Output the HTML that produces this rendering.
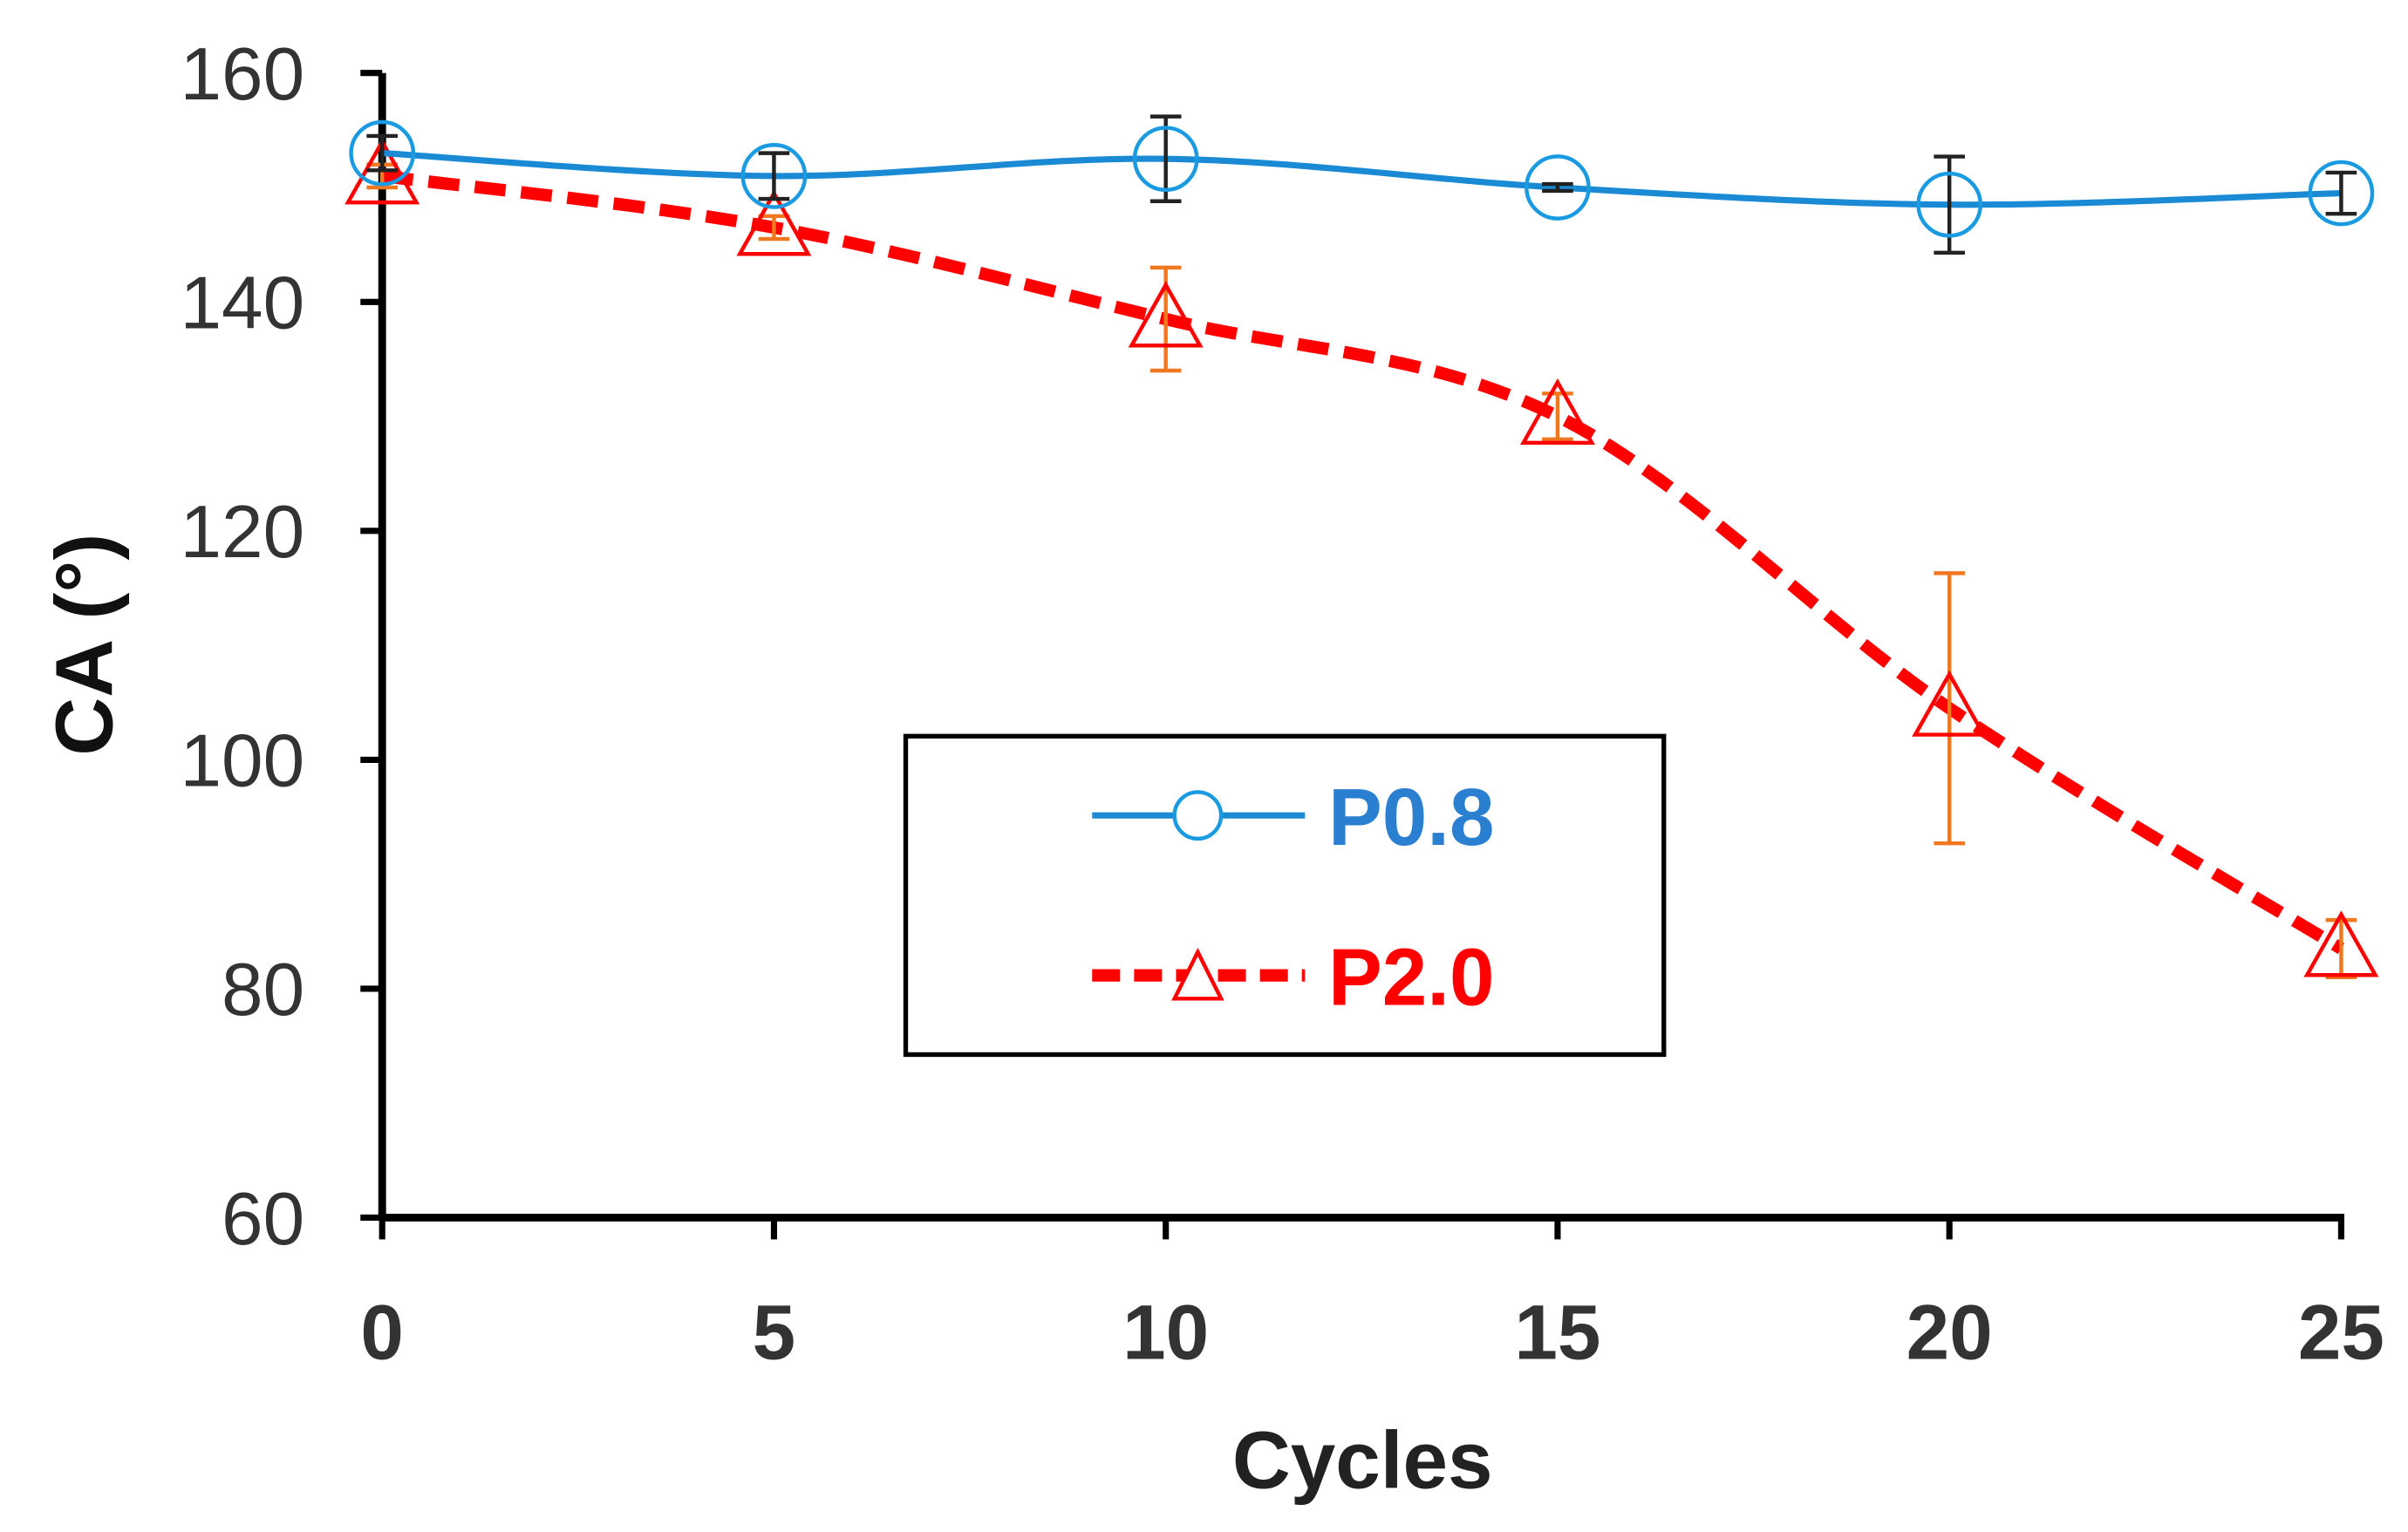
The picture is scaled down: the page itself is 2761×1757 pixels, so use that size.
<!DOCTYPE html>
<html><head><meta charset="utf-8"><style>
html,body{margin:0;padding:0;background:#fff;}
svg{display:block;}
text{font-family:"Liberation Sans",Arial,sans-serif;}
</style></head><body>
<svg id="chart" width="2761" height="1757" viewBox="0 0 1550 986.4" preserveAspectRatio="none" xmlns="http://www.w3.org/2000/svg">
<g id="axes"></g>
<g id="series"></g>
<g>
  <rect x="583" y="474" width="488" height="205" fill="#fff" stroke="#000" stroke-width="3"/>
  <line x1="703" y1="525" x2="840" y2="525" stroke="#1a8ad4" stroke-width="4"/>
  <circle cx="771" cy="525" r="15" fill="#fff" stroke="#1a9ae0" stroke-width="2.5"/>
  <text x="855" y="544" font-size="52" font-weight="bold" fill="#2a7fd0">P0.8</text>
  <line x1="703" y1="628" x2="840" y2="628" stroke="#ff0000" stroke-width="8" stroke-dasharray="18 9"/>
  <polygon points="771,613 756,643 786,643" fill="#fff" stroke="#ff0000" stroke-width="2.5"/>
  <text x="855" y="647" font-size="52" font-weight="bold" fill="#ff0000">P2.0</text>
</g>
<text x="877" y="958" font-size="52" font-weight="bold" text-anchor="middle" fill="#222">Cycles</text>
<text x="0" y="0" font-size="52" font-weight="bold" text-anchor="middle" fill="#111" transform="translate(72,415) rotate(-90)">CA (°)</text>
</svg>
<script>
const cycles = [0, 5, 10, 15, 20, 25];
const p08 = [153, 151, 152.5, 150, 148.5, 149.5];
const p08Err = [1.5, 2, 3.7, 0.3, 4.2, 1.8];
const p20 = [151, 146.5, 138.5, 130, 104.5, 83.5];
const p20Err = [1, 1, 4.5, 2, 11.8, 2.5];
const yTicks = [60, 80, 100, 120, 140, 160];
const xTicks = [0, 5, 10, 15, 20, 25];

const NS = "http://www.w3.org/2000/svg";
const X0 = 246, X1 = 1507, Y0 = 784, Y1 = 47;
const xs = v => X0 + (v - 0) / 25 * (X1 - X0);
const ys = v => Y0 - (v - 60) / 100 * (Y0 - Y1);
function mk(tag, attrs, parent) {
  const e = document.createElementNS(NS, tag);
  for (const k in attrs) e.setAttribute(k, attrs[k]);
  parent.appendChild(e);
  return e;
}
const axes = document.getElementById('axes');
const series = document.getElementById('series');

let el = mk('line', {x1: X0, y1: Y1, x2: X0, y2: Y0 + 2, stroke: '#000', 'stroke-width': 5}, axes);


el = mk('line', {x1: X0 - 2, y1: Y0, x2: X1 + 2, y2: Y0, stroke: '#000', 'stroke-width': 5}, axes);



yTicks.forEach(t => {
  const y = ys(t);
  const tk = mk('line', {x1: X0 - 14, y1: y, x2: X0, y2: y, stroke: '#000', 'stroke-width': 4}, axes);
  
  
  const tx = mk('text', {x: 196, y: y + 17, 'font-size': 48, 'text-anchor': 'end', fill: '#333'}, axes);
  tx.textContent = t;
  
  
});
xTicks.forEach(t => {
  const x = xs(t);
  const tk = mk('line', {x1: x, y1: Y0, x2: x, y2: Y0 + 14, stroke: '#000', 'stroke-width': 4}, axes);
  
  
  const tx = mk('text', {x: x, y: 875, 'font-size': 50, 'font-weight': 'bold', 'text-anchor': 'middle', fill: '#333'}, axes);
  tx.textContent = t;
  
  
});

function smoothPath(pts) {
  let d = `M${pts[0][0]},${pts[0][1]}`;
  for (let i = 0; i < pts.length - 1; i++) {
    const p0 = pts[i - 1] || pts[i], p1 = pts[i], p2 = pts[i + 1], p3 = pts[i + 2] || p2;
    const t = 1 / 6;
    d += ` C${p1[0] + (p2[0] - p0[0]) * t},${p1[1] + (p2[1] - p0[1]) * t} ${p2[0] - (p3[0] - p1[0]) * t},${p2[1] - (p3[1] - p1[1]) * t} ${p2[0]},${p2[1]}`;
  }
  return d;
}

// error bars
function errBars(vals, errs, color, name) {
  vals.forEach((v, i) => {
    const x = xs(cycles[i]), yt = ys(v + errs[i]), yb = ys(v - errs[i]);
    const g = mk('g', {stroke: color, 'stroke-width': 2.5}, series);
    
    
    mk('line', {x1: x, y1: yt, x2: x, y2: yb}, g);
    mk('line', {x1: x - 10, y1: yt, x2: x + 10, y2: yt}, g);
    mk('line', {x1: x - 10, y1: yb, x2: x + 10, y2: yb}, g);
  });
}

const p20pts = cycles.map((c, i) => [xs(c), ys(p20[i])]);
const p08pts = cycles.map((c, i) => [xs(c), ys(p08[i])]);

el = mk('path', {d: smoothPath(p20pts), fill: 'none', stroke: '#ff0000', 'stroke-width': 8, 'stroke-dasharray': '20 10'}, series);


errBars(p20, p20Err, '#f07820', 'p20-error-bar');
p20pts.forEach(p => {
  const [x, y] = p;
  const m = mk('polygon', {points: `${x},${y - 22} ${x - 22},${y + 17} ${x + 22},${y + 17}`, fill: 'none', stroke: '#ff0000', 'stroke-width': 2.5}, series);
  
  
});

el = mk('path', {d: smoothPath(p08pts), fill: 'none', stroke: '#1a8ad4', 'stroke-width': 4}, series);


errBars(p08, p08Err, '#222', 'p08-error-bar');
p08pts.forEach(p => {
  const m = mk('circle', {cx: p[0], cy: p[1], r: 20, fill: 'none', stroke: '#1a9ae0', 'stroke-width': 2.5}, series);
  
  
});
</script>
</body></html>
